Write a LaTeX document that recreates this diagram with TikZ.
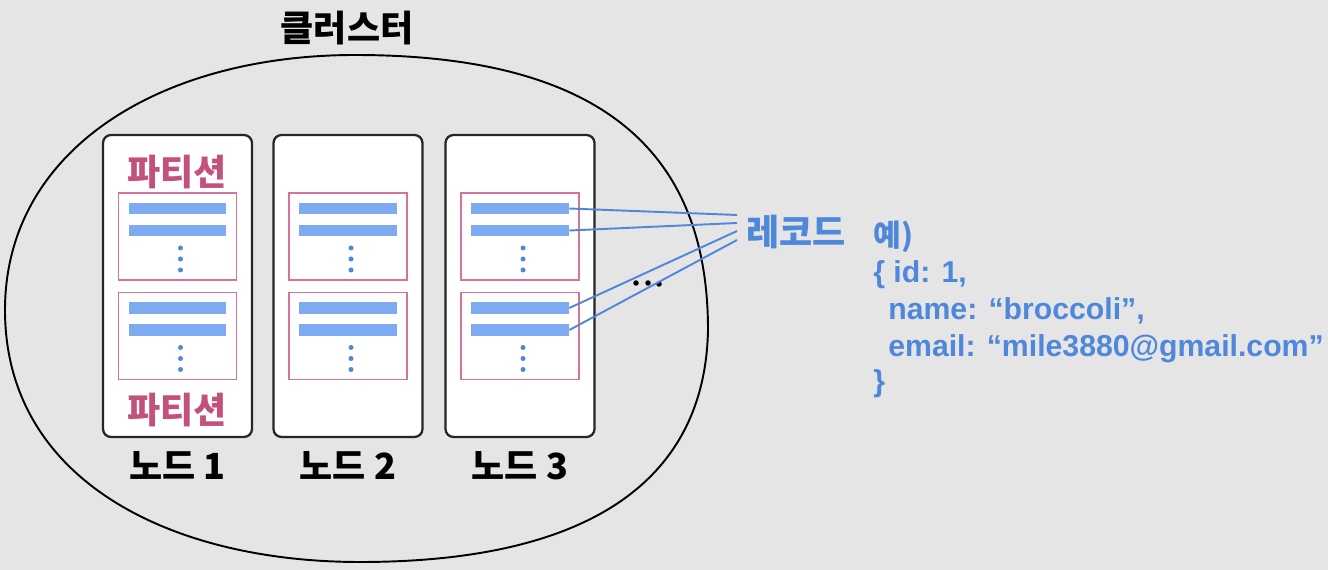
\documentclass[tikz,border=0pt]{standalone}
\usepackage{fontspec}
\setmainfont{Liberation Sans}
\newfontfamily\kr{Noto Sans CJK KR}
\definecolor{bggray}{HTML}{E5E5E5}
\definecolor{partpink}{HTML}{C4507D}
\definecolor{boxpink}{HTML}{D7729A}
\definecolor{barblue}{HTML}{7DAAF0}
\definecolor{recblue}{HTML}{4F88DB}
\tikzset{
  nodebox/.style={draw=black!85,line width=1.3pt,fill=white,rounded corners=0.16cm,
    minimum width=2.98cm,minimum height=6.04cm,inner sep=0},
  partbox/.style={draw=boxpink,line width=1pt,fill=white,
    minimum width=2.36cm,minimum height=1.74cm,inner sep=0},
  bar/.style={fill=barblue,minimum width=1.96cm,minimum height=0.23cm,inner sep=0},
  recline/.style={draw=recblue,line width=1.1pt},
  krlabel/.style={inner sep=0,font=\kr\bfseries\fontsize{20.5}{24}\selectfont},
  codeline/.style={anchor=base west,inner sep=0,text=recblue,
    font=\bfseries\fontsize{17.2}{20}\selectfont},
}

\begin{document}
\begin{tikzpicture}[x=0.02cm,y=-0.02cm]
  \useasboundingbox[fill=bggray] (0,0) rectangle (1328,570);
  % cluster
  \draw[line width=1.1pt] (355,55) .. controls (600,55) and (708,150) .. (708,330)
    .. controls (705,480) and (590,562) .. (360,562)
    .. controls (170,562) and (5,480) .. (5,310)
    .. controls (5,150) and (160,55) .. cycle;
  \node[krlabel] (cluster) at (347,28) {클러스터};
  % nodes with two partitions each
  \foreach \i/\x in {1/177.5,2/348,3/520}{
    \node[nodebox] (n\i) at (\x,286) {};
    \node[krlabel] (lbl\i) at (\x,466) {노드 \i};
    \foreach \j/\y in {1/236.5,2/336}{
      \node[partbox] (p\i\j) at (\x,\y) {};
      \node[bar] (b\i\j1) at (\x,\y-28) {};
      \node[bar] (b\i\j2) at (\x,\y-6) {};
      \foreach \d in {11.5,22.5,33.5}
        \fill[recblue] (\x+3,\y+\d) circle[radius=0.05cm];
    }
  }
  \node[krlabel,text=partpink] (part1) at (177,172) {파티션};
  \node[krlabel,text=partpink] (part2) at (177,410) {파티션};
  % more nodes
  \fill (636,283) circle[radius=0.055cm];
  \fill (648,283) circle[radius=0.055cm];
  \fill (659,284) circle[radius=0.055cm];
  % records
  \node[krlabel,text=recblue] (rec) at (796,232) {레코드};
  \coordinate (e1) at (737,215);
  \coordinate (e2) at (737,223);
  \coordinate (e3) at (737,231);
  \coordinate (e4) at (737,240);
  \draw[recline] (b311.east) -- (e1);
  \draw[recline] (b312.east) -- (e2);
  \draw[recline] (b321.east) -- (e3);
  \draw[recline] (b322.east) -- (e4);
  % example record
  \node[codeline,font=\kr\bfseries\fontsize{17.2}{20}\selectfont] (ex0) at (873,247) {예)};
  \node[codeline] (ex1) at (873,283) {\{ id: 1,};
  \node[codeline] (ex2) at (888,320) {name: “broccoli”,};
  \node[codeline] (ex3) at (888,357) {email: “mile3880@gmail.com”};
  \node[codeline] (ex4) at (873,392) {\}};
\end{tikzpicture}
\end{document}
